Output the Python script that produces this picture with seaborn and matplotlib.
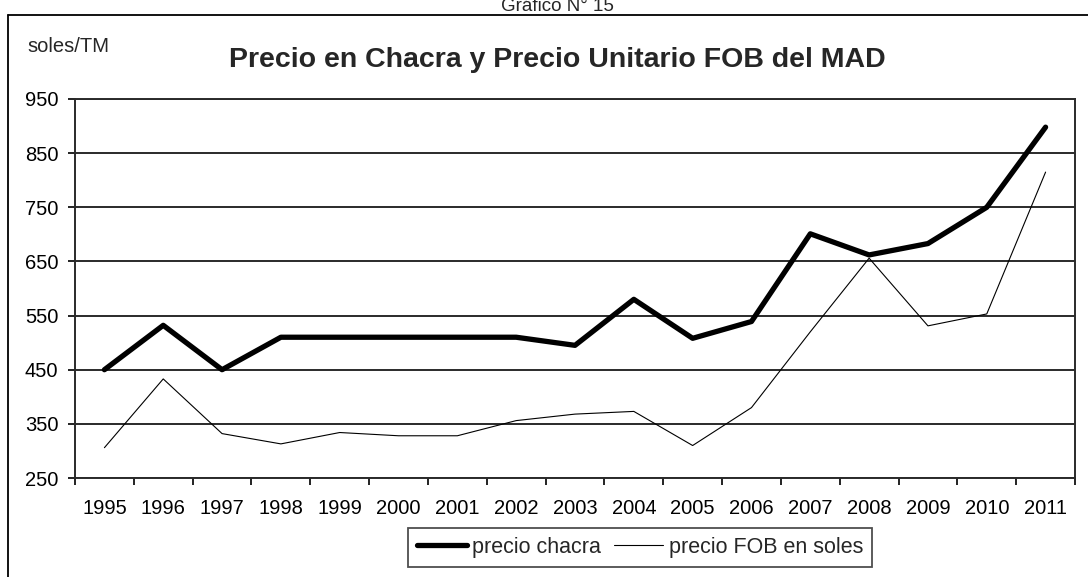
import pandas as pd
import matplotlib.pyplot as plt
import seaborn as sns
from matplotlib.lines import Line2D
from matplotlib.ticker import FixedLocator

# Valores
years = ['1995', '1996', '1997', '1998', '1999', '2000', '2001', '2002', '2003',
         '2004', '2005', '2006', '2007', '2008', '2009', '2010', '2011']
precio_chacra = [450, 532, 450, 510, 510, 510, 510, 510, 495,
                 580, 508, 539, 701, 662, 683, 750, 898]
precio_fob = [306, 433, 332, 313, 334, 328, 328, 356, 368,
              373, 310, 380, 520, 656, 531, 553, 815]
y_ticks = [250, 350, 450, 550, 650, 750, 850, 950]

df = pd.DataFrame({
    'pos': list(range(len(years))) * 2,
    'valor': precio_chacra + precio_fob,
    'serie': ['precio chacra'] * len(years) + ['precio FOB en soles'] * len(years),
})

sns.set_style('white')
plt.rcParams['font.family'] = ['Liberation Sans', 'DejaVu Sans']

W, H = 1088, 577
fig = plt.figure(figsize=(W / 100, H / 100), dpi=100)
ax = fig.add_axes([75 / W, 1 - 478 / H, 1000 / W, 379 / H])

sns.lineplot(data=df, x='pos', y='valor', hue='serie', size='serie',
             sizes={'precio chacra': 3.8, 'precio FOB en soles': 0.8},
             palette={'precio chacra': 'black', 'precio FOB en soles': 'black'},
             ax=ax, legend=False)

ax.set_xlim(-0.5, len(years) - 0.5)
ax.set_ylim(250, 950)
ax.set_yticks(y_ticks)
ax.set_yticklabels([str(v) for v in y_ticks], fontsize=14.5)
ax.set_xticks(range(len(years)))
ax.set_xticklabels(years, fontsize=14.5)
ax.xaxis.set_minor_locator(FixedLocator([i - 0.5 for i in range(len(years) + 1)]))
ax.tick_params(axis='x', which='major', length=0, pad=15, colors='black')
ax.tick_params(axis='x', which='minor', length=5, width=1.4, direction='out', color='#222222', bottom=True)
ax.tick_params(axis='y', length=5, width=1.4, direction='out', color='#222222', left=True, pad=7,
               colors='black')
ax.set_xlabel('')
ax.set_ylabel('')
ax.grid(axis='y', color='#2a2a2a', linewidth=1.4)
ax.set_axisbelow(True)
for sp in ax.spines.values():
    sp.set_color('#2a2a2a')
    sp.set_linewidth(1.4)
    sp.set_visible(True)

# leyenda
h1 = Line2D([], [], color='black', lw=3.8, label='precio chacra')
h2 = Line2D([], [], color='black', lw=0.8, label='precio FOB en soles')
leg = fig.legend(handles=[h1, h2], loc='center', bbox_to_anchor=(640 / W, 1 - 547.5 / H),
                 ncol=2, frameon=True, fancybox=False, fontsize=15.5, handlelength=2.3,
                 handletextpad=0.25, columnspacing=0.6, borderpad=0.4, borderaxespad=0)
leg.get_frame().set_edgecolor('#222222')
leg.get_frame().set_linewidth(1.3)

# titulos
fig.text(557 / W, 1 - 60 / H, 'Precio en Chacra y Precio Unitario FOB del MAD',
         ha='center', va='center', fontsize=20.5, fontweight='bold')
fig.text(27 / W, 1 - 46 / H, 'soles/TM', ha='left', va='center', fontsize=14.5)
fig.text(557 / W, 1 - 11 / H, 'Gráfico N° 15', ha='center', va='baseline', fontsize=13.5)

# marco exterior (izquierda y arriba)
fig.add_artist(Line2D([8 / W, 8 / W], [0, 1 - 15 / H], transform=fig.transFigure,
                      color='black', lw=1.3))
fig.add_artist(Line2D([8 / W, 1], [1 - 15 / H, 1 - 15 / H], transform=fig.transFigure,
                      color='black', lw=1.3))

fig.savefig('out.png', dpi=100)
